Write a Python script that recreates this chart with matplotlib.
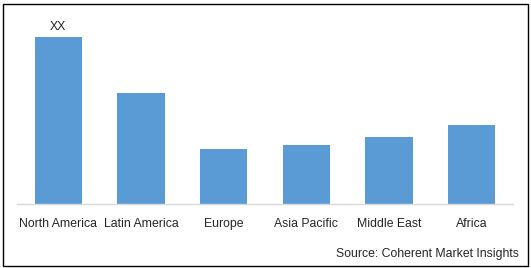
import matplotlib
matplotlib.use("Agg")
import matplotlib.pyplot as plt
from matplotlib.patches import Rectangle

categories = ["North America", "Latin America", "Europe", "Asia Pacific", "Middle East", "Africa"]
values = [165, 110, 54, 58, 66, 78]
top_label = "XX"
source = "Source: Coherent Market Insights"

W, H = 531, 268
fig = plt.figure(figsize=(W / 100, H / 100), dpi=100)
plt.rcParams['font.family'] = ['Liberation Sans', 'DejaVu Sans']

left, right = 17 / W, 513 / W
bottom, top = 1 - 204 / H, 1 - 10 / H
ax = fig.add_axes([left, bottom, right - left, top - bottom])
x = list(range(len(categories)))
ax.bar(x, values, width=0.57, color="#5B9BD5", zorder=2)
ax.set_xlim(-0.5, len(categories) - 0.5)
ax.set_ylim(0, 192)
for s in ["top", "right", "left"]:
    ax.spines[s].set_visible(False)
ax.spines["bottom"].set_color("#D9D9D9")
ax.spines["bottom"].set_linewidth(1.0)
ax.set_yticks([])
ax.set_xticks(x)
ax.set_xticklabels(categories, fontsize=8.8, color="#262626")
ax.tick_params(axis="x", length=0, pad=10)
ax.text(0, values[0] + 4, top_label, ha="center", va="bottom", fontsize=8.8, color="#262626")

fig.text(519 / W, 1 - 254 / H, source, ha="right", va="center", fontsize=8.8, color="#262626")
fig.patches.append(Rectangle((2.5 / W, 2.5 / H), (W - 6) / W, (H - 6) / H,
                             transform=fig.transFigure, fill=False, edgecolor="black", linewidth=1.0))
fig.savefig("out.png", dpi=100)
